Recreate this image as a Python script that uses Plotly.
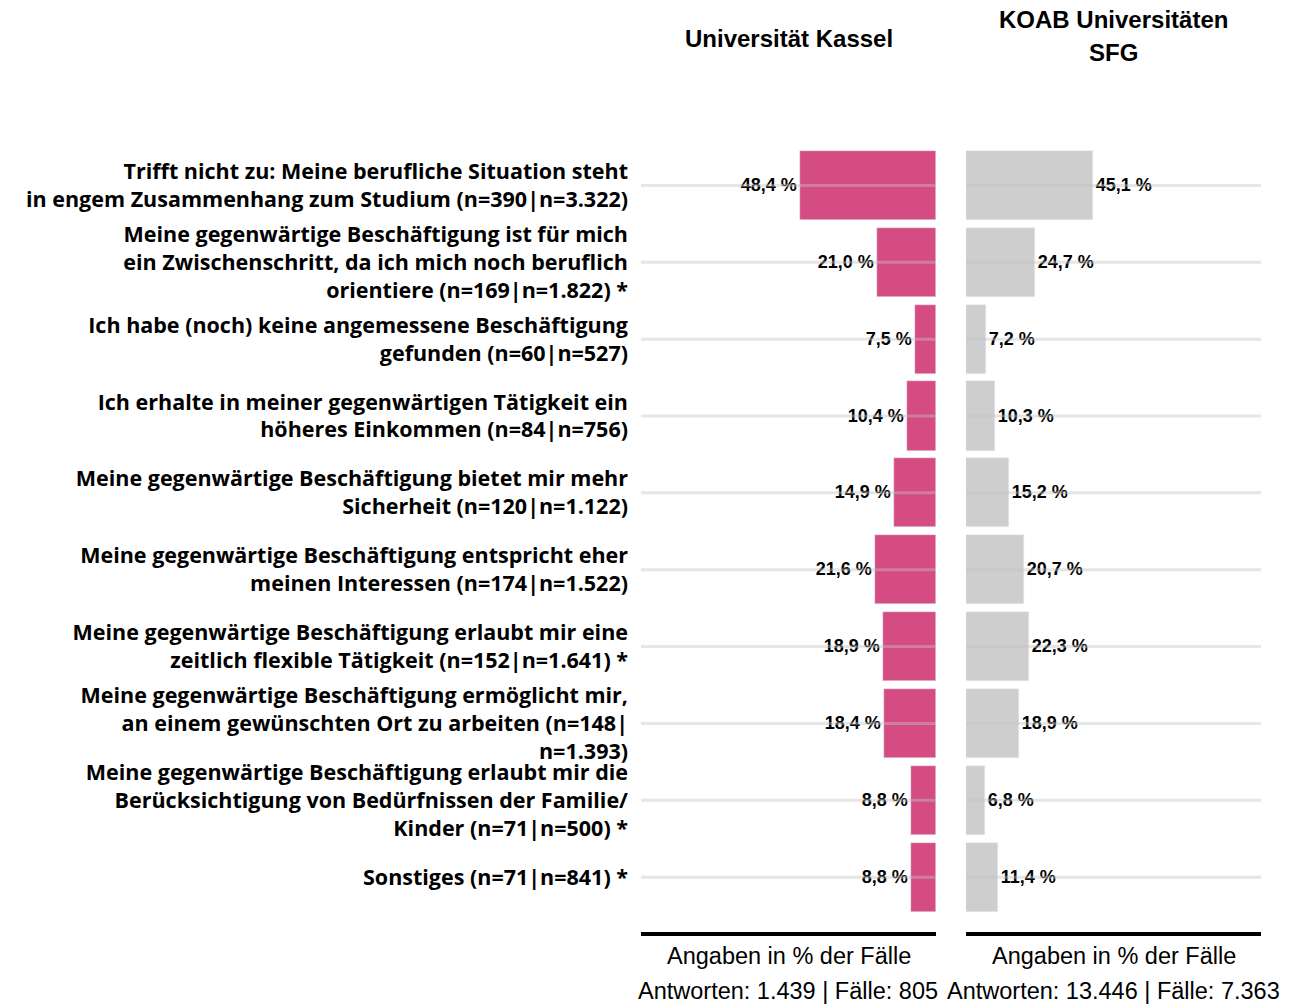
import plotly.graph_objects as go

# Response categories (top to bottom)
categories = [
    "Trifft nicht zu: Meine berufliche Situation steht<br>in engem Zusammenhang zum Studium (n=390|n=3.322)",
    "Meine gegenwärtige Beschäftigung ist für mich<br>ein Zwischenschritt, da ich mich noch beruflich<br>orientiere (n=169|n=1.822) *",
    "Ich habe (noch) keine angemessene Beschäftigung<br>gefunden (n=60|n=527)",
    "Ich erhalte in meiner gegenwärtigen Tätigkeit ein<br>höheres Einkommen (n=84|n=756)",
    "Meine gegenwärtige Beschäftigung bietet mir mehr<br>Sicherheit (n=120|n=1.122)",
    "Meine gegenwärtige Beschäftigung entspricht eher<br>meinen Interessen (n=174|n=1.522)",
    "Meine gegenwärtige Beschäftigung erlaubt mir eine<br>zeitlich flexible Tätigkeit (n=152|n=1.641) *",
    "Meine gegenwärtige Beschäftigung ermöglicht mir,<br>an einem gewünschten Ort zu arbeiten (n=148|<br>n=1.393)",
    "Meine gegenwärtige Beschäftigung erlaubt mir die<br>Berücksichtigung von Bedürfnissen der Familie/<br>Kinder (n=71|n=500) *",
    "Sonstiges (n=71|n=841) *",
]

kassel = [48.4, 21.0, 7.5, 10.4, 14.9, 21.6, 18.9, 18.4, 8.8, 8.8]
koab = [45.1, 24.7, 7.2, 10.3, 15.2, 20.7, 22.3, 18.9, 6.8, 11.4]

panel_titles = ["Universität Kassel", "KOAB Universitäten", "SFG"]
axis_title = "Angaben in % der Fälle"
footers = ["Antworten: 1.439 | Fälle: 805", "Antworten: 13.446 | Fälle: 7.363"]

PINK = "#d44c82"
GREY = "#cecece"
W, H = 1296, 1004
TOP, BOTTOM = 147, 934          # plot area edges in pixels
dom1 = [641 / W, 936 / W]
dom2 = [966 / W, 1261 / W]

idx = list(range(len(categories)))

fig = go.Figure()
value_font = dict(family="Liberation Sans, Arial, sans-serif", size=18, color="black", weight="bold")

fig.add_trace(go.Bar(
    x=kassel, y=idx, orientation="h", marker_color=PINK, width=0.9,
    texttemplate="%{x:.1f} %", textposition="outside", textfont=value_font,
    cliponaxis=False, xaxis="x", yaxis="y", showlegend=False,
))
fig.add_trace(go.Bar(
    x=koab, y=idx, orientation="h", marker_color=GREY, width=0.9,
    texttemplate="%{x:.1f} %", textposition="outside", textfont=value_font,
    cliponaxis=False, xaxis="x2", yaxis="y2", showlegend=False,
))

yrange = [9.74, -0.5]
fig.update_layout(
    width=W, height=H,
    margin=dict(l=0, r=0, t=TOP, b=H - BOTTOM),
    plot_bgcolor="white", paper_bgcolor="white",
    separators=",.",
    bargap=0,
    xaxis=dict(domain=dom1, range=[105, 0], visible=False, fixedrange=True),
    xaxis2=dict(domain=dom2, range=[0, 105], visible=False, fixedrange=True),
    yaxis=dict(
        anchor="x", range=yrange, tickmode="array", tickvals=idx,
        ticktext=categories,
        tickfont=dict(family="Open Sans, sans-serif", size=21.5, color="black", weight="bold"),
        showgrid=False, zeroline=False, ticks="", ticklabelstandoff=12,
    ),
    yaxis2=dict(anchor="x2", range=yrange, showticklabels=False,
                showgrid=False, zeroline=False, ticks=""),
)

# Horizontal guide lines drawn over the bars
shapes = []
for i in idx:
    for xr in ["x domain", "x2 domain"]:
        shapes.append(dict(type="line", xref=xr, yref="y", x0=0, x1=1, y0=i, y1=i,
                           line=dict(color="rgba(195,195,195,0.42)", width=3),
                           layer="above"))
# Thick baseline under each panel
for xr in ["x domain", "x2 domain"]:
    shapes.append(dict(type="line", xref=xr, yref="paper", x0=0, x1=1, y0=0, y1=0,
                       line=dict(color="black", width=4), layer="above"))
fig.update_layout(shapes=shapes)


def py(pix):
    """Pixel row -> paper coordinate (paper spans the plot area)."""
    return (BOTTOM - pix) / (BOTTOM - TOP)


title_font = dict(family="Liberation Sans, Arial, sans-serif", size=24, color="black", weight="bold")
text_font = dict(family="Liberation Sans, Arial, sans-serif", size=23.5, color="black")
c1 = (dom1[0] + dom1[1]) / 2
c2 = (dom2[0] + dom2[1]) / 2
ann = [
    dict(x=c1, y=py(38), text=panel_titles[0], font=title_font),
    dict(x=c2, y=py(20), text=panel_titles[1], font=title_font),
    dict(x=c2, y=py(53), text=panel_titles[2], font=title_font),
    dict(x=c1, y=py(956), text=axis_title, font=text_font),
    dict(x=c2, y=py(956), text=axis_title, font=text_font),
    dict(x=c1 - 1 / W, y=py(991), text=footers[0], font=text_font),
    dict(x=c2, y=py(991), text=footers[1], font=text_font),
]
for a in ann:
    a.update(xref="paper", yref="paper", showarrow=False, xanchor="center", yanchor="middle")
fig.update_layout(annotations=ann)

fig.write_html("out.html")
